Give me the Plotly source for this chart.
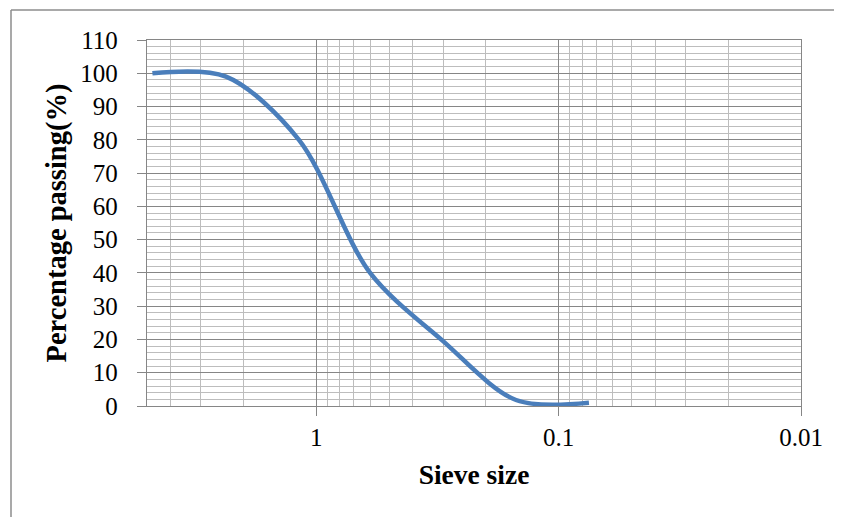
import plotly.graph_objects as go

sieve_size = [4.75, 2.36, 1.18, 0.6, 0.3, 0.15, 0.075]
percent_passing = [100, 99, 80, 40, 19.5, 1.8, 1]

# figure is placed at an 8px page offset, so work in figure coords
W, H = 834, 509
L, R, T, B = 139, 41, 32, 111
pw, ph = W - L - R, H - T - B

font = "Liberation Serif, Times New Roman, serif"
major = "#868686"
minor = "#bdbdbd"

fig = go.Figure()
fig.add_trace(go.Scatter(
    x=sieve_size, y=percent_passing, mode="lines",
    line=dict(color="#4a7ebb", width=4.5, shape="spline", smoothing=0.9),
    showlegend=False, hoverinfo="skip",
))

def px2paper_x(p):
    return (p - L) / pw

def px2paper_y(p):
    return (H - B - p) / ph

fig.update_layout(
    width=W, height=H,
    margin=dict(l=L, r=R, t=T, b=B),
    paper_bgcolor="white", plot_bgcolor="white",
    font=dict(family=font, size=25, color="black"),
    xaxis=dict(
        type="log", range=[0.69897, -2],
        tickvals=[1, 0.1, 0.01], ticktext=["1", "0.1", "0.01"],
        showgrid=True, gridcolor=major, gridwidth=1.3,
        minor=dict(dtick="D1", showgrid=True, gridcolor=minor, gridwidth=1.3, ticks=""),
        ticks="outside", ticklen=9, tickcolor=major, tickwidth=1.3,
        showline=True, linecolor=major, linewidth=1.3, mirror=True,
        zeroline=False,
        title=dict(text="<b>Sieve size</b>", font=dict(family=font, size=27.5), standoff=14),
    ),
    yaxis=dict(
        range=[0, 110], tickvals=list(range(0, 111, 10)),
        showgrid=True, gridcolor=major, gridwidth=1.3,
        minor=dict(dtick=2, showgrid=True, gridcolor=minor, gridwidth=1.3, ticks=""),
        ticks="outside", ticklen=9, tickcolor=major, tickwidth=1.3,
        ticklabelstandoff=14,
        showline=True, linecolor=major, linewidth=1.3, mirror=True,
        zeroline=False,
        title=dict(text="<b>Percentage passing(%)</b>", font=dict(family=font, size=28.5), standoff=5),
    ),
    shapes=[
        dict(type="line", xref="paper", yref="paper",
             x0=px2paper_x(3), x1=px2paper_x(850), y0=px2paper_y(2), y1=px2paper_y(2),
             line=dict(color="#8c8c8c", width=1.5)),
        dict(type="line", xref="paper", yref="paper",
             x0=px2paper_x(3), x1=px2paper_x(3), y0=px2paper_y(2), y1=px2paper_y(525),
             line=dict(color="#8c8c8c", width=1.5)),
    ],
)

fig.write_html("out.html")
